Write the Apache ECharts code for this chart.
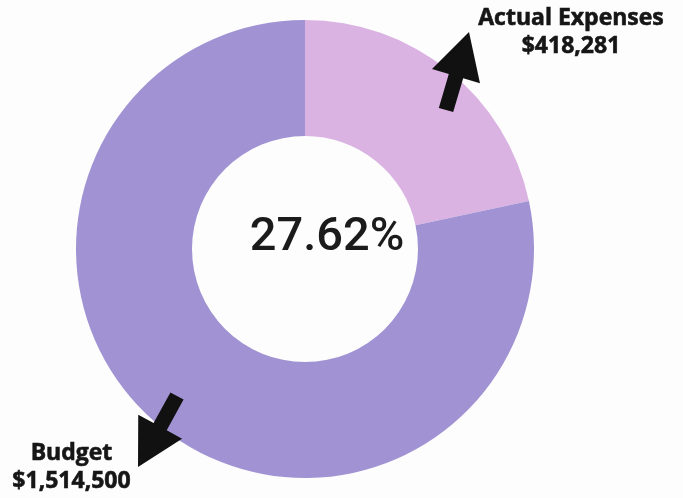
<!DOCTYPE html>
<html>
<head>
<meta charset="utf-8">
<script src="https://cdn.jsdelivr.net/npm/echarts@6/dist/echarts.min.js"></script>
<style>
  html, body { margin: 0; padding: 0; background: #fdfdfd; }
  #chart { width: 683px; height: 498px; }
</style>
</head>
<body>
<div id="chart"></div>
<script>
// Expense vs budget figures
const categories = ['Actual Expenses', 'Budget'];
const amounts = [418281, 1514500];
const sliceColors = ['#dab3e3', '#a193d3'];

const fmtMoney = v => '$' + v.toLocaleString('en-US');
const spentPct = (amounts[0] / amounts[1] * 100).toFixed(2) + '%';

// Builds a filled arrow polygon running from tail to tip
function arrowPoints(tail, tip, shaftHalf, headHalf, headLen) {
  const dx = tip[0] - tail[0], dy = tip[1] - tail[1];
  const len = Math.hypot(dx, dy);
  const ux = dx / len, uy = dy / len;
  const nx = -uy, ny = ux;
  const bx = tip[0] - ux * headLen, by = tip[1] - uy * headLen;
  return [
    [tail[0] + nx * shaftHalf, tail[1] + ny * shaftHalf],
    [bx + nx * shaftHalf, by + ny * shaftHalf],
    [bx + nx * headHalf, by + ny * headHalf],
    tip,
    [bx - nx * headHalf, by - ny * headHalf],
    [bx - nx * shaftHalf, by - ny * shaftHalf],
    [tail[0] - nx * shaftHalf, tail[1] - ny * shaftHalf]
  ];
}

const labelFont = '"Open Sans", "Noto Sans", sans-serif';

const chart = echarts.init(document.getElementById('chart'), null, { renderer: 'canvas' });
chart.setOption({
  backgroundColor: '#fdfdfd',
  animation: false,
  series: [{
    type: 'pie',
    center: [305, 249],
    radius: [113, 229],
    startAngle: 90,
    clockwise: true,
    silent: true,
    z: 1,
    label: { show: false },
    labelLine: { show: false },
    itemStyle: { borderWidth: 0 },
    data: categories.map((name, i) => ({
      name, value: amounts[i], itemStyle: { color: sliceColors[i] }
    }))
  }],
  graphic: {
    elements: [
      {
        type: 'text', z: 100,
        style: {
          text: spentPct, x: 327, y: 238, align: 'center', verticalAlign: 'middle',
          font: '500 47px Roboto, "Liberation Sans", Arial, sans-serif', fill: '#1b1b1b'
        }
      },
      {
        type: 'text', z: 100,
        style: {
          text: categories[0] + '\n' + fmtMoney(amounts[0]),
          x: 571, y: 4, align: 'center', verticalAlign: 'top', lineHeight: 28,
          font: 'bold 23px ' + labelFont, fill: '#161616',
          stroke: '#161616', lineWidth: 0.6
        }
      },
      {
        type: 'text', z: 100,
        style: {
          text: categories[1] + '\n' + fmtMoney(amounts[1]),
          x: 71.5, y: 439, align: 'center', verticalAlign: 'top', lineHeight: 28,
          font: 'bold 23px ' + labelFont, fill: '#161616',
          stroke: '#161616', lineWidth: 0.6
        }
      },
      {
        type: 'polygon', z: 100,
        shape: { points: arrowPoints([446, 110], [469, 32], 7.5, 25, 46) },
        style: { fill: '#111111' }
      },
      {
        type: 'polygon', z: 100,
        shape: { points: arrowPoints([177, 396], [138, 467], 7.5, 25, 46) },
        style: { fill: '#111111' }
      }
    ]
  }
});
</script>
</body>
</html>
